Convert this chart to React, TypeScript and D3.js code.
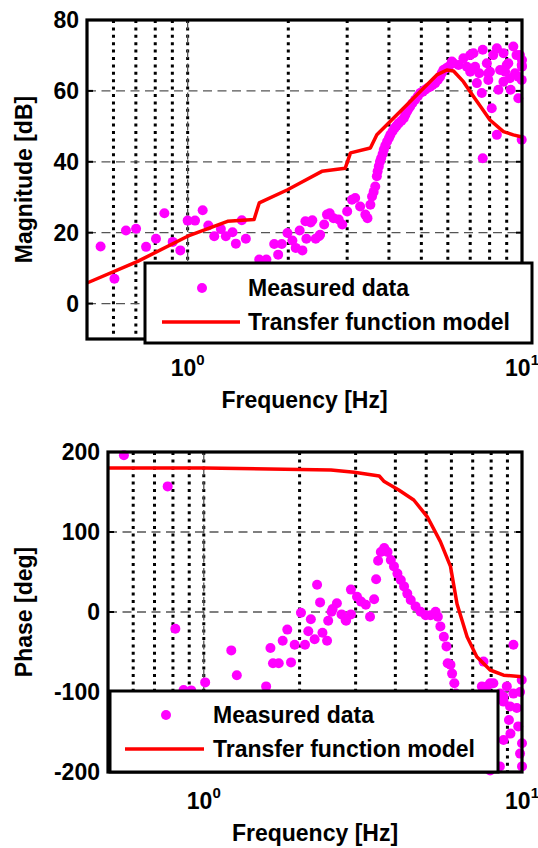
import React, { useRef, useEffect } from "react";
import { select, scaleLog, scaleLinear, line } from "d3";

// measured magnitude response
const magFreq = [
  0.549, 0.604, 0.654, 0.701, 0.751, 0.804, 0.852, 0.902, 0.951, 1.0, 1.052, 1.109, 1.153, 1.201,
  1.257, 1.301, 1.362, 1.394, 1.452, 1.493, 1.637, 1.72, 1.815, 1.865, 1.912, 1.988, 2.057, 2.105,
  2.163, 2.204, 2.25, 2.265, 2.333, 2.36, 2.415, 2.47, 2.49, 2.56, 2.61, 2.66, 2.73, 2.83, 2.9, 3.0,
  3.1, 3.17, 3.28, 3.4, 3.45, 3.52, 3.56, 3.6, 3.64, 3.68, 3.7, 3.73, 3.76, 3.79, 3.83, 3.86, 3.9,
  3.95, 4.0, 4.04, 4.1, 4.16, 4.22, 4.28, 4.36, 4.43, 4.48, 4.53, 4.58, 4.63, 4.7, 4.79, 4.88, 4.96,
  5.05, 5.13, 5.22, 5.31, 5.4, 5.5, 5.6, 5.69, 5.75, 5.82, 5.92, 6.03, 6.17, 6.24, 6.46, 6.68, 6.84,
  7.0, 7.0, 7.16, 7.24, 7.33, 7.45, 7.58, 7.63, 7.63, 7.85, 7.93, 7.93, 8.02, 8.12, 8.2, 8.41, 8.41,
  8.5, 8.6, 8.8, 8.8, 8.9, 9.0, 9.1, 9.2, 9.25, 9.42, 9.53, 9.63, 9.75, 9.75, 9.86, 9.98, 9.98, 9.98,
  10.0, 10.0,
];
const magDb = [
  16.1, 7.0, 20.6, 21.1, 16.0, 18.3, 25.5, 17.4, 15.0, 23.4, 23.4, 26.3, 22.0, 19.0,
  21.0, 19.0, 20.1, 16.9, 23.5, 18.3, 12.4, 12.4, 16.8, 13.8, 16.8, 19.9, 17.8, 15.7,
  20.6, 15.0, 23.2, 18.3, 22.9, 23.5, 18.3, 19.0, 19.4, 22.3, 25.1, 25.5, 24.1, 23.7, 22.3, 26.0,
  29.3, 29.8, 27.4, 25.1, 24.1, 27.9, 30.2, 31.5, 33.0, 35.9, 37.3, 38.7, 40.0, 41.0, 42.2, 43.4, 44.5,
  45.7, 46.7, 47.6, 48.6, 49.5, 50.2, 50.9, 51.6, 52.3, 53.3, 54.2, 55.0, 55.6, 56.5, 57.5, 58.5, 59.4,
  59.8, 60.3, 60.8, 61.2, 61.7, 62.2, 63.1, 64.0, 65.0, 65.9, 66.3, 66.8, 68.3, 67.8, 67.3, 69.2, 66.8,
  65.4, 70.1, 70.6, 66.8, 62.2, 65.0, 59.4, 71.6, 41.0, 67.8, 65.0, 63.1, 65.4, 55.1, 70.1, 47.6, 72.0,
  60.3, 65.9, 70.6, 62.6, 65.4, 67.3, 67.8, 63.6, 60.3, 72.5, 65.0, 70.1, 57.9, 64.0, 70.1, 46.2, 67.3, 63.1,
  66.8, 68.7,
];

// transfer function model, magnitude
const magModelFreq = [0.5, 0.709, 1.0, 1.316, 1.58, 1.637, 1.99, 2.17, 2.52, 2.96, 3.07, 3.52, 3.68, 5.56, 5.96, 6.24, 6.68, 7.16, 7.58, 8.02, 8.8, 9.42, 10];
const magModelDb = [5.8, 11.9, 19.0, 23.2, 23.7, 28.4, 32.1, 34.0, 37.3, 38.2, 42.5, 43.9, 47.6, 64.5, 65.9, 65.6, 62.6, 58.4, 55.1, 51.8, 48.5, 47.6, 47.0];

// measured phase response
const phaseFreq = [
  0.561, 0.77, 0.814, 0.864, 0.913, 1.01, 1.22, 1.27, 1.57, 1.62, 1.65, 1.72, 1.77, 1.83, 1.88, 1.93,
  2.02, 2.08, 2.13, 2.17, 2.23, 2.27, 2.32, 2.36, 2.44, 2.46, 2.52, 2.54, 2.62, 2.71, 2.79, 2.8, 2.9,
  2.9, 3.03, 3.12, 3.23, 3.33, 3.43, 3.48, 3.53, 3.6, 3.69, 3.78, 3.87, 3.96, 4.06, 4.16, 4.26, 4.36,
  4.47, 4.63, 4.8, 4.98, 5.16, 5.35, 5.44, 5.54, 5.68, 5.79, 5.84, 5.96, 6.03, 6.13, 6.2, 7.48, 7.57,
  7.76, 7.8, 7.94, 7.94, 8.0, 8.13, 8.52, 8.53, 8.75, 8.75, 8.75, 8.96, 9.1, 9.17, 9.2, 9.4, 9.4,
  9.63, 9.73, 9.86, 9.86, 9.98, 10.0, 10.0,
];
const phaseDeg = [
  196, 157, -21, -97.5, -98, -88, -48, -79, -93, -45, -64, -64, -36, -22, -63, -41,
  -1, -41, -24, -9, -34, 34, 12, -26, -36, -11, 0.4, 3.75, 11, -3, -10, -11, 28,
  -3, 19, 13, 9, -6, 16, 41, 64, 75, 80, 75, 65, 57, 48, 40, 32, 23,
  15, 7, 0.4, -4, -4, 0.4, -6, -18, -31, -43, -64, -66, -77, -89, -102, -93, -62,
  -93, -104, -89, -198, -115, -89, -193, -102, -112, -160, -106, -93, -135, -118, -152, -41, -102,
  -120, -143, -100, -177, -85, -164, -193,
];

// transfer function model, phase
const phaseModelFreq = [0.5, 1.0, 2.51, 2.97, 3.56, 3.69, 4.1, 4.57, 5.04, 5.54, 5.96, 6.25, 6.72, 7.21, 7.94, 8.75, 10];
const phaseModelDeg = [180, 180, 177.5, 174.6, 170, 163, 152.5, 140, 119, 88, 57, 10, -31, -56, -72.5, -79, -81];

const gridFreqs = [0.6, 0.7, 0.8, 0.9, 1, 2, 3, 4, 5, 6, 7, 8, 9];
const decadeTicks = [1, 10];
const magTicks = [0, 20, 40, 60, 80];
const phaseTicks = [-200, -100, 0, 100, 200];
const legendLabels = ["Measured data", "Transfer function model"];

const FONT = "'Liberation Sans', Arial, Helvetica, sans-serif";
const MAGENTA = "#ff00ff";
const RED = "#ff0000";

function drawPanel(g, p) {
  const x = scaleLog().domain([0.5, 10]).range([p.left, p.right]);
  const y = scaleLinear().domain(p.yDomain).range([p.bottom, p.top]);

  // minor grid: dotted verticals
  g.selectAll(".minor")
    .data(gridFreqs)
    .join("line")
    .attr("x1", (d) => x(d))
    .attr("x2", (d) => x(d))
    .attr("y1", p.top)
    .attr("y2", p.bottom)
    .attr("stroke", "#000")
    .attr("stroke-width", 3)
    .attr("stroke-dasharray", "3 4.4");

  // major grid: dashed
  const inner = p.yTicks.filter((t) => t > p.yDomain[0] && t < p.yDomain[1]);
  g.selectAll(".hmajor")
    .data(inner)
    .join("line")
    .attr("x1", p.left)
    .attr("x2", p.right)
    .attr("y1", (d) => y(d))
    .attr("y2", (d) => y(d))
    .attr("stroke", "#555")
    .attr("stroke-width", 1.3)
    .attr("stroke-dasharray", "9 5.5");
  g.append("line")
    .attr("x1", x(1))
    .attr("x2", x(1))
    .attr("y1", p.top)
    .attr("y2", p.bottom)
    .attr("stroke", "#555")
    .attr("stroke-width", 1.3)
    .attr("stroke-dasharray", "9 5.5");

  // y ticks, both sides
  p.yTicks.forEach((t) => {
    g.append("line").attr("x1", p.left).attr("x2", p.left + 6).attr("y1", y(t)).attr("y2", y(t)).attr("stroke", "#000").attr("stroke-width", 2);
    g.append("line").attr("x1", p.right - 6).attr("x2", p.right).attr("y1", y(t)).attr("y2", y(t)).attr("stroke", "#000").attr("stroke-width", 2);
  });

  // measured points
  g.selectAll(".pt")
    .data(p.xs.map((f, i) => [f, p.ys[i]]))
    .join("circle")
    .attr("cx", (d) => x(d[0]))
    .attr("cy", (d) => y(d[1]))
    .attr("r", 5)
    .attr("fill", MAGENTA);

  // model line
  const model = line()
    .x((d) => x(d[0]))
    .y((d) => y(d[1]));
  g.append("path")
    .attr("d", model(p.mx.map((f, i) => [f, p.my[i]])))
    .attr("fill", "none")
    .attr("stroke", RED)
    .attr("stroke-width", 3.5)
    .attr("stroke-linejoin", "round");

  // axes box
  g.append("rect")
    .attr("x", p.left)
    .attr("y", p.top)
    .attr("width", p.right - p.left)
    .attr("height", p.bottom - p.top)
    .attr("fill", "none")
    .attr("stroke", "#000")
    .attr("stroke-width", 3.2);

  // tick labels
  g.selectAll(".ylab")
    .data(p.yTicks)
    .join("text")
    .attr("x", p.left - 8)
    .attr("y", (d) => y(d))
    .attr("dy", "0.36em")
    .attr("text-anchor", "end")
    .attr("font-size", 23)
    .attr("font-weight", "bold")
    .attr("font-family", FONT)
    .text((d) => d);

  decadeTicks.forEach((d) => {
    const t = g.append("text")
      .attr("x", x(d))
      .attr("y", p.bottom + 37)
      .attr("text-anchor", "middle")
      .attr("font-size", 23)
      .attr("font-weight", "bold")
      .attr("font-family", FONT);
    t.append("tspan").text("10");
    t.append("tspan").attr("dy", -11).attr("font-size", 15).text(Math.round(Math.log10(d)));
  });

  g.append("text")
    .attr("x", (p.left + p.right) / 2)
    .attr("y", p.bottom + 69)
    .attr("text-anchor", "middle")
    .attr("font-size", 23)
    .attr("font-weight", "bold")
    .attr("font-family", FONT)
    .text("Frequency [Hz]");

  g.append("text")
    .attr("transform", `translate(32,${(p.top + p.bottom) / 2}) rotate(-90)`)
    .attr("text-anchor", "middle")
    .attr("font-size", 23)
    .attr("font-weight", "bold")
    .attr("font-family", FONT)
    .text(p.yLabel);

  // legend
  const L = p.legend;
  g.append("rect")
    .attr("x", L.x0)
    .attr("y", L.y0)
    .attr("width", L.x1 - L.x0)
    .attr("height", L.y1 - L.y0)
    .attr("fill", "#fff")
    .attr("stroke", "#000")
    .attr("stroke-width", 3);
  g.append("circle").attr("cx", L.markerX).attr("cy", L.row1).attr("r", 5).attr("fill", MAGENTA);
  g.append("line")
    .attr("x1", L.lineX0)
    .attr("x2", L.lineX1)
    .attr("y1", L.row2)
    .attr("y2", L.row2)
    .attr("stroke", RED)
    .attr("stroke-width", 3.5);
  g.selectAll(".leg")
    .data(legendLabels)
    .join("text")
    .attr("x", L.textX)
    .attr("y", (d, i) => (i === 0 ? L.row1 : L.row2))
    .attr("dy", "0.36em")
    .attr("font-size", 23)
    .attr("font-weight", "bold")
    .attr("font-family", FONT)
    .text((d) => d);
}

function App() {
  const svgRef = useRef(null);
  useEffect(() => {
    const svg = select(svgRef.current);
    svg.selectAll("*").remove();

    drawPanel(svg.append("g"), {
      left: 87, right: 522, top: 20, bottom: 339,
      yDomain: [-10, 80], yTicks: magTicks, yLabel: "Magnitude [dB]",
      xs: magFreq, ys: magDb, mx: magModelFreq, my: magModelDb,
      legend: { x0: 145, x1: 532, y0: 263, y1: 343, markerX: 202, lineX0: 162, lineX1: 240, textX: 248, row1: 288, row2: 322 },
    });

    drawPanel(svg.append("g"), {
      left: 108, right: 522, top: 452, bottom: 772,
      yDomain: [-200, 200], yTicks: phaseTicks, yLabel: "Phase [deg]",
      xs: phaseFreq, ys: phaseDeg, mx: phaseModelFreq, my: phaseModelDeg,
      legend: { x0: 110, x1: 498, y0: 691, y1: 772, markerX: 166, lineX0: 125, lineX1: 204, textX: 213, row1: 715, row2: 749 },
    });
  }, []);

  return (
    <svg
      ref={svgRef}
      width={538}
      height={848}
      style={{ position: "absolute", left: 0, top: 0, background: "#fff" }}
    />
  );
}

export default App;
